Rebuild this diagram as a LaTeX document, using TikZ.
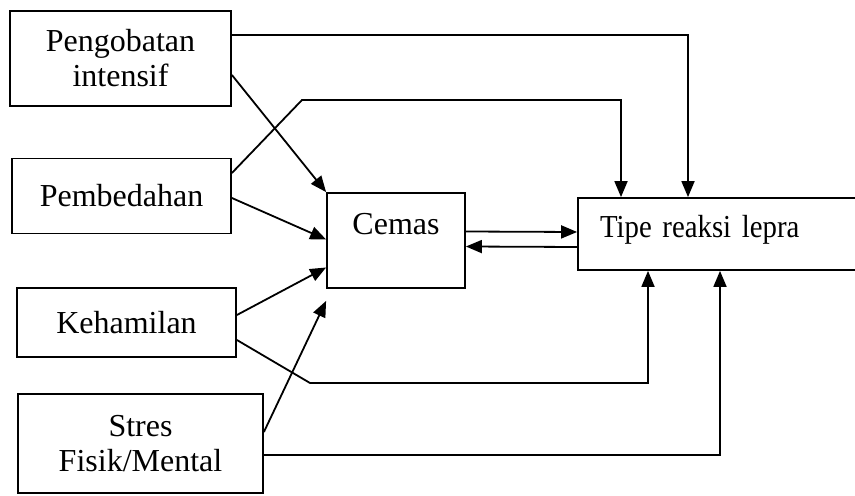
\documentclass[tikz,border=0pt]{standalone}
\usepackage{fontspec}
\setmainfont{Liberation Serif}
\newfontfamily\sempit[FakeStretch=0.9]{Liberation Serif}
\usetikzlibrary{arrows.meta}

\tikzset{
  kotak/.style={draw, line width=0.9pt, font=\fontsize{16pt}{17.5pt}\selectfont, align=center, inner sep=0pt},
}

\begin{document}
\begin{tikzpicture}[x=0.5pt, y=-0.5pt, line width=0.9pt, >={Triangle[length=8pt,width=6.5pt]}]
\useasboundingbox (0,0) rectangle (855,496);
\clip (0,0) rectangle (855,496);
% kotak kiri
\node[kotak, minimum width=110.5pt, minimum height=47.5pt] (peng) at (120.5,58.5) {Pengobatan\\intensif};
\node[kotak, minimum width=109.5pt, minimum height=37.5pt] (pemb) at (121.5,196) {Pembedahan};
\node[kotak, minimum width=109.5pt, minimum height=34.5pt] (hamil) at (126.5,322.5) {Kehamilan};
\node[kotak, minimum width=122.5pt, minimum height=49.5pt] (stres) at (140.5,443.5) {Stres\\Fisik/Mental};
% kotak tengah dan kanan
\node[kotak, minimum width=69pt, text height=21pt, text depth=26.5pt] (cemas) at (396,240.5) {Cemas};
\node[kotak, font=\sempit\fontsize{16pt}{17.5pt}\selectfont, text width=139pt, align=left, inner xsep=11pt, text height=20pt, text depth=16pt] (tipe) at (739,234) {Tipe reaksi lepra};
\coordinate (belok1) at (302,100);
\coordinate (belok2) at (310,383);
% panah
\draw[->] ([yshift=11.75pt]peng.east) -| ([xshift=-25.5pt]tipe.north);
\draw[->] ([yshift=-8.25pt]peng.east) -- (cemas.north west);
\draw[->] ([yshift=11.5pt]pemb.east) -- (belok1) -| ([xshift=-59pt]tipe.north);
\draw[->] ([yshift=-1pt]pemb.east) -- ([yshift=0.5pt]cemas.west);
\draw[->] ([yshift=3.75pt]hamil.east) -- ([yshift=-13.5pt]cemas.west);
\draw[->] ([yshift=5.75pt]stres.east) -- ([yshift=-6pt]cemas.south west);
\draw[->] ([yshift=-8.75pt]hamil.east) -- (belok2) -| ([xshift=-45.5pt]tipe.south);
\draw[->] ([yshift=-5.75pt]stres.east) -| ([xshift=-9.5pt]tipe.south);
\draw[->] ([yshift=4.5pt]cemas.east) -- ([yshift=1pt]tipe.west);
\draw[->] ([yshift=-6.5pt]tipe.west) -- ([yshift=-3pt]cemas.east);
\end{tikzpicture}
\end{document}
